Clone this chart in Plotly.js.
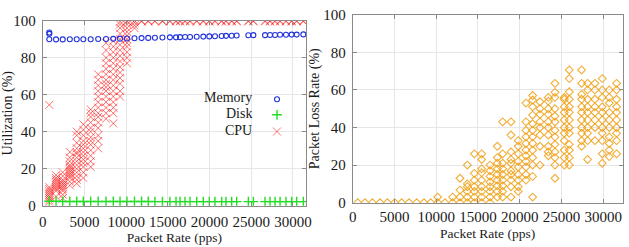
<!DOCTYPE html>
<html><head><meta charset="utf-8">
<script src="https://cdn.plot.ly/plotly-3.0.1.min.js"></script>
<style>html,body{margin:0;padding:0;background:#fff}#chart{width:629px;height:247px}</style>
</head><body><div id="chart"></div>
<script>
// ---- Left chart: utilization vs packet rate ----
const rates = [790,1600,2400,3250,4080,4870,5750,6650,7590,8460,9270,10100,11000,11850,12650,13450,14350,15250,15980,16460,
  17060,17660,18460,19250,19970,20650,21450,21970,22650,23250,24650,25250,26650,27250,27850,28450,29160,29840,30440,31240];
const memory = [90.0,89.9,89.9,90.0,90.0,90.0,90.0,90.1,90.1,90.2,90.3,90.4,90.5,90.6,90.7,90.8,90.9,91.0,91.0,91.1,
  91.2,91.2,91.3,91.4,91.5,91.6,91.7,91.8,91.9,92.0,92.1,92.2,92.2,92.3,92.3,92.4,92.4,92.5,92.5,92.6];
const memoryExtraRates = [790,790];
const memoryExtra = [93.6,92.9];
const disk = [2.4,2.4,2.3,2.3,2.3,2.3,2.3,2.3,2.3,2.3,2.3,2.3,2.3,2.3,2.3,2.2,2.2,2.2,2.2,2.2,
  2.2,2.2,2.2,2.2,2.2,2.2,2.2,2.2,2.2,2.2,2.2,2.2,2.2,2.2,2.2,2.2,2.2,2.2,2.2,2.2];
const cpuLow = [
  [2,3,4,5,6,7,8,9,10,54.5],
  [5,8,9,10,11,12,13,14,15,16.5],
  [4,6,8,9,10,11,12,13,14,16,18],
  [11,13,15,16,17,18,19,20,21,22,24,26,29],
  [12,14,16,18,20,22,24,26,28,29,31,34,38,40],
  [15,18,21,23,25,27,29,31,33,35,38,41,44],
  [21,24,27,30,33,35,37,40,42,45,48,50,52],
  [31,35,38,42,45,48,50,53,56,59,62,65,68,71],
  [47,50,53,56,59,62,64,66,68,71,74,77,80,84,88],
  [44.5,50,53,56,59,62,65,68,71,74,77,80,83,86,89],
  [59,62,66,69,72,75,78,81,84,87,90,93,96,98,99.5],
  [77,80,83,86,88,90,92,94,96,98,99.5,100],
  [96,97.5,99,100]
];
const cpuHigh = [99.6,100];

// ---- Right chart: packet loss vs packet rate ----
const lossRates = [598,1476,2354,3271,4149,5027,5864,6742,7659,8537,9335,10172,11050,11967,12845,13723,14561,15439,16436,
  17313,17950,18948,19825,20743,21540,22418,23416,24213,25330,25929,27405,28122,29000,29878,30715,31593];
const lossValues = [
  [0],[0],[0],[0],[0],[0],[0],[0],[0],[0],[0],
  [0,3],
  [0],
  [0,3],
  [0,3,6.7,13],
  [0,3,6,8.5,10,20],
  [0,3,6,8.5,12,15.6,26],
  [0,3,6,8.5,12,16,18,23,26],
  [0,3,6,8.5,11,14,17,20],
  [3,6,9,12,15,18,21,24,30],
  [3,6,9,12,15,18,21,26,43],
  [3,8.5,12,15,17,21,23,27,36,43],
  [6,8.5,12,15,19,22,26,30,33],
  [12,15,19,22,25,28,31.5,35,38.5,43,53],
  [3,14,20,24,28,31.5,35,38.5,42,46.6,51,54.6,57],
  [20,30,36,40,43,47,50,53.7],
  [25,27,30,36,40,43,47,50,54,56],
  [13,20,24,27,31,35,38.5,43,46,50,56,58.7,63.5],
  [20,24,28,33,37,40,44,48,51,55,56],
  [20,24,28,31,37,40,44,48,51,55,59,66,70.6],
  [30,33,37,40,44,48,51,55,57.6,63.5,70.6],
  [23,33,37,40,44,48,51,55,60,63.5],
  [33,40,44,48,51,55,60,63.5],
  [21,26,33,37,40,44,48,51,56,60,66],
  [24.5,28,31.5,35,40,44,48,53,56,60],
  [26,33,37,40,44,48,51,55,60,63.5]
];

const tickVals = [0,5000,10000,15000,20000,25000,30000];
const tickText = ['0','5000','10000','15000','20000','25000','30000'];
const yTicks = [0,20,40,60,80,100];
const legendNames = ['Memory','Disk','CPU'];

// flatten helpers
const cpuX = [], cpuY = [];
rates.forEach((r, i) => {
  const vals = i < cpuLow.length ? cpuLow[i] : cpuHigh;
  vals.forEach(v => { cpuX.push(r); cpuY.push(v); });
});
const lossX = [], lossY = [];
lossRates.forEach((r, i) => lossValues[i].forEach(v => { lossX.push(r); lossY.push(v); }));

const FONT = 'Liberation Serif, Times New Roman, serif';
const TXT = '#1a1a1a';
const W = 629, H = 247;

const traces = [
  {x: cpuX, y: cpuY, type: 'scatter', mode: 'markers', name: ' ', xaxis: 'x', yaxis: 'y', legend: 'legend3',
   marker: {symbol: 'x-thin-open', size: 8, color: 'rgba(255,0,0,0.55)', line: {width: 1, color: 'rgba(255,0,0,0.55)'}}},
  {x: rates, y: disk, type: 'scatter', mode: 'markers', name: ' ', xaxis: 'x', yaxis: 'y', legend: 'legend2',
   marker: {symbol: 'cross-thin-open', size: 7, color: '#22dd22', line: {width: 1.4, color: '#22dd22'}}},
  {x: rates.concat(memoryExtraRates), y: memory.concat(memoryExtra), type: 'scatter', mode: 'markers', name: ' ', xaxis: 'x', yaxis: 'y', legend: 'legend',
   marker: {symbol: 'circle-open', size: 5, color: '#2233dd', line: {width: 1.1, color: '#2233dd'}}},
  {x: lossX, y: lossY, type: 'scatter', mode: 'markers', name: 'loss', showlegend: false, xaxis: 'x2', yaxis: 'y2',
   marker: {symbol: 'diamond-open', size: 6, color: 'rgba(240,160,20,0.85)', line: {width: 1.1, color: 'rgba(240,160,20,0.85)'}}}
];

const axisCommon = {
  showline: true, mirror: 'ticks', linecolor: '#8a8a8a', linewidth: 1,
  ticks: 'inside', ticklen: 4, tickcolor: '#8a8a8a',
  showgrid: true, gridcolor: '#e6e6e6', gridwidth: 1, zeroline: false,
  tickfont: {family: FONT, size: 15, color: TXT}
};
const legendCommon = {xanchor: 'left', yanchor: 'top', bgcolor: 'rgba(0,0,0,0)', font: {family: FONT, size: 12}, itemwidth: 30};

const layout = {
  width: W, height: H,
  margin: {l: 0, r: 0, t: 0, b: 0},
  paper_bgcolor: '#fff', plot_bgcolor: '#fff',
  font: {family: FONT, color: TXT},
  showlegend: true,
  legend: Object.assign({}, legendCommon, {x: 257/W, y: (H-84.7)/H}),
  legend2: Object.assign({}, legendCommon, {x: 257/W, y: (H-100.3)/H}),
  legend3: Object.assign({}, legendCommon, {x: 257/W, y: (H-117)/H}),
  xaxis: Object.assign({}, axisCommon, {domain: [42.7/W, 306/W], range: [0, 31560], tickvals: tickVals, ticktext: tickText, anchor: 'y',
    ticklabelstandoff: 2,
    title: {text: 'Packet Rate (pps)', font: {family: FONT, size: 13.5, color: TXT}, standoff: 3}}),
  yaxis: Object.assign({}, axisCommon, {domain: [(H-205.7)/H, (H-20.7)/H], range: [0, 100], tickvals: yTicks, anchor: 'x',
    ticklabelstandoff: 3,
    title: {text: 'Utilization (%)', font: {family: FONT, size: 14, color: TXT}, standoff: 0}}),
  xaxis2: Object.assign({}, axisCommon, {domain: [352.7/W, 622.5/W], range: [0, 32300], tickvals: tickVals, ticktext: tickText, anchor: 'y2',
    title: {text: 'Packet Rate (pps)', font: {family: FONT, size: 13.5, color: TXT}, standoff: 4}}),
  yaxis2: Object.assign({}, axisCommon, {domain: [(H-202.7)/H, (H-14.7)/H], range: [0, 100], tickvals: yTicks, anchor: 'x2',
    ticklabelstandoff: 3,
    title: {text: 'Packet Loss Rate (%)', font: {family: FONT, size: 14, color: TXT}, standoff: 0}}),
  annotations: [
    {text: legendNames[0], xref: 'paper', yref: 'paper', x: 254/W, y: (H-97.7)/H, xanchor: 'right', yanchor: 'middle', showarrow: false, font: {family: FONT, size: 14, color: TXT}},
    {text: legendNames[1], xref: 'paper', yref: 'paper', x: 254/W, y: (H-113.5)/H, xanchor: 'right', yanchor: 'middle', showarrow: false, font: {family: FONT, size: 14, color: TXT}},
    {text: legendNames[2], xref: 'paper', yref: 'paper', x: 254/W, y: (H-130)/H, xanchor: 'right', yanchor: 'middle', showarrow: false, font: {family: FONT, size: 14, color: TXT}}
  ]
};

Plotly.newPlot('chart', traces, layout, {staticPlot: true, displayModeBar: false});
</script>
</body></html>
